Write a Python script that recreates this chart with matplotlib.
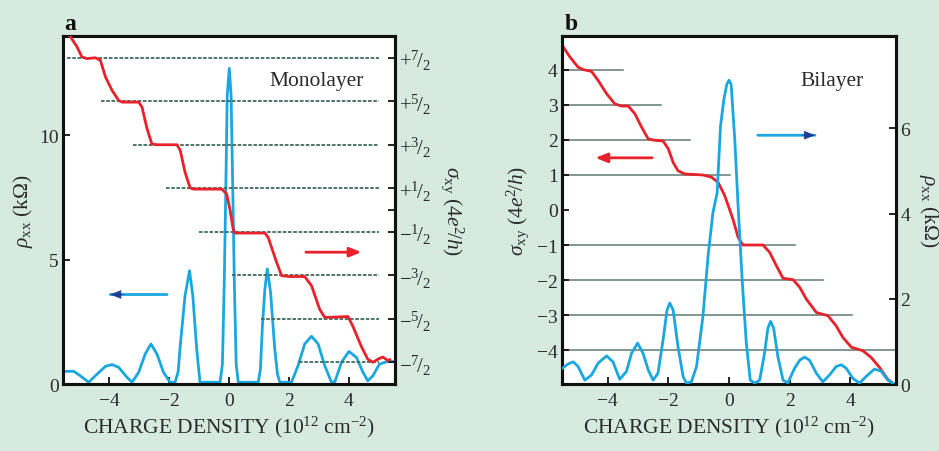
import matplotlib
matplotlib.use("Agg")
import matplotlib.pyplot as plt

plt.rcParams['font.family'] = ['Liberation Serif', 'DejaVu Serif']
plt.rcParams['mathtext.fontset'] = 'custom'
plt.rcParams['mathtext.rm'] = 'Liberation Serif'
plt.rcParams['mathtext.it'] = 'Liberation Serif:italic'
plt.rcParams['mathtext.bf'] = 'Liberation Serif:bold'

# ---------------- data: panel a (monolayer) ----------------
mono_rho_x = [-5.53, -5.19, -4.97, -4.69, -4.41, -4.13, -3.91, -3.69, -3.41, -3.24, -3.02, -2.8,
              -2.61, -2.41, -2.19, -1.97, -1.8, -1.7, -1.63, -1.47, -1.32, -1.21, -1.08, -0.97, -0.3,
              -0.22, -0.16, -0.11, -0.06, 0.01, 0.07, 0.13, 0.18, 0.24, 0.31, 0.98, 1.05, 1.12, 1.2, 1.28, 1.39,
              1.53, 1.62, 1.7, 2.09, 2.31, 2.53, 2.76, 2.98, 3.2, 3.42, 3.54, 3.76, 4.01, 4.26, 4.48,
              4.64, 4.81, 5.03, 5.31, 5.5]
mono_rho_y = [0.51, 0.51, 0.33, 0.07, 0.4, 0.71, 0.78, 0.67, 0.27, 0.07, 0.47, 1.21,
              1.61, 1.21, 0.47, 0.07, 0.07, 0.5, 1.54, 3.55, 4.56, 3.55, 1.41, 0.07, 0.07,
              0.8, 4.0, 7.57, 11.6, 12.7, 11.6, 7.57, 4.0, 0.8, 0.07, 0.07, 0.6, 2.4, 3.82, 4.63, 3.69,
              1.41, 0.4, 0.07, 0.07, 0.74, 1.61, 1.92, 1.61, 0.74, 0.09, 0.09, 0.87, 1.31, 1.07, 0.47,
              0.13, 0.33, 0.8, 0.91, 0.9]

mono_sig_x = [-5.45, -5.3, -5.08, -4.92, -4.75, -4.47, -4.3, -4.13, -3.91, -3.69, -3.58, -3.02,
              -2.91, -2.74, -2.58, -2.41, -1.74, -1.63, -1.47, -1.3, -1.19, -0.24, -0.08, 0.03,
              0.14, 0.2, 1.2, 1.31, 1.59, 1.76, 2.03, 2.53, 2.76, 3.03, 3.2, 3.98, 4.14, 4.42,
              4.64, 4.81, 4.98, 5.14, 5.31, 5.37]
mono_sig_y = [4.1, 3.98, 3.75, 3.52, 3.48, 3.5, 3.44, 3.06, 2.75, 2.52, 2.48, 2.48,
              2.37, 1.87, 1.52, 1.5, 1.5, 1.37, 0.87, 0.51, 0.48, 0.48, 0.37, 0.02,
              -0.44, -0.53, -0.53, -0.63, -1.2, -1.51, -1.53, -1.53, -1.74, -2.28, -2.47, -2.45, -2.67, -3.13,
              -3.43, -3.5, -3.43, -3.38, -3.46, -3.44]

mono_levels = [3.5, 2.5, 1.5, 0.5, -0.5, -1.5, -2.5, -3.5]
mono_level_start = [-5.4, -4.27, -3.2, -2.1, -1.0, 0.1, 1.07, 2.33]
mono_level_end = 5.03
mono_sig_ticks = [3.5, 2.5, 1.5, 0.5, 0.0, -0.5, -1.5, -2.5, -3.5]
mono_sig_labels = [r'$+{}^{7}\!/_{2}$', r'$+{}^{5}\!/_{2}$', r'$+{}^{3}\!/_{2}$', r'$+{}^{1}\!/_{2}$', '',
                   r'$-{}^{1}\!/_{2}$', r'$-{}^{3}\!/_{2}$', r'$-{}^{5}\!/_{2}$', r'$-{}^{7}\!/_{2}$']
mono_rho_ticks = [0, 5, 10]

# ---------------- data: panel b (bilayer) ----------------
bi_sig_x = [-5.46, -5.24, -4.97, -4.8, -4.53, -4.31, -4.03, -3.76, -3.54, -3.32, -3.1, -2.88,
            -2.66, -2.44, -2.17, -2.0, -1.84, -1.68, -1.46, -0.86, -0.58, -0.36, -0.14, 0.13,
            0.3, 0.46, 1.12, 1.34, 1.56, 1.78, 2.11, 2.33, 2.55, 2.88, 3.26, 3.53, 3.75, 4.03,
            4.41, 4.68, 4.96, 5.23, 5.45]
bi_sig_y = [4.66, 4.37, 4.08, 4.01, 3.96, 3.7, 3.32, 3.03, 2.97, 2.97, 2.75, 2.37,
            2.03, 1.99, 1.97, 1.75, 1.36, 1.12, 1.03, 1.0, 0.94, 0.79, 0.41, -0.26,
            -0.78, -1.0, -1.0, -1.21, -1.59, -1.95, -1.99, -2.21, -2.55, -2.93, -3.02, -3.31, -3.64, -3.92,
            -4.02, -4.21, -4.5, -4.84, -4.98]

bi_rho_x = [-5.49, -5.3, -5.13, -4.97, -4.75, -4.53, -4.31, -4.03, -3.82, -3.6, -3.38, -3.21,
            -3.01, -2.83, -2.66, -2.5, -2.34, -2.17, -2.04, -1.95, -1.84, -1.68, -1.51, -1.4,
            -1.24, -1.07, -0.86, -0.69, -0.53, -0.39, -0.28, -0.17, -0.07, 0.0, 0.07, 0.19,
            0.3, 0.44, 0.57, 0.7, 0.85, 1.01, 1.17, 1.28, 1.37, 1.47, 1.61, 1.78, 1.94, 2.16,
            2.33, 2.49, 2.65, 2.88, 3.09, 3.31, 3.53, 3.7, 3.86, 4.08, 4.3, 4.52, 4.79, 5.01,
            5.23, 5.4]
bi_rho_y = [0.37, 0.47, 0.52, 0.41, 0.09, 0.21, 0.49, 0.66, 0.52, 0.11, 0.29, 0.72,
            0.96, 0.72, 0.33, 0.09, 0.25, 1.04, 1.74, 1.9, 1.74, 0.88, 0.17, 0.02,
            0.05, 0.41, 1.58, 3.0, 4.02, 4.49, 6.05, 6.68, 7.04, 7.13, 7.04, 5.74,
            4.17, 2.37, 0.96, 0.09, 0.02, 0.09, 0.72, 1.31, 1.47, 1.31, 0.64, 0.09, 0.03, 0.37,
            0.56, 0.63, 0.56, 0.25, 0.05, 0.21, 0.41, 0.45, 0.37, 0.13, 0.02, 0.18, 0.35, 0.3,
            0.09, 0.02]

bi_levels = [4, 3, 2, 1, -1, -2, -3, -4]
bi_level_end = [-3.5, -2.25, -1.3, 0.03, 2.17, 3.1, 4.05, 5.5]
bi_sig_ticks = [4, 3, 2, 1, 0, -1, -2, -3, -4]
bi_sig_labels = ['4', '3', '2', '1', '0', '\u22121', '\u22122', '\u22123', '\u22124']
bi_rho_ticks = [0, 2, 4, 6]

x_ticks = [-4, -2, 0, 2, 4]
x_labels = ['\u22124', '\u22122', '0', '2', '4']

# ---------------- styling ----------------
BG = '#d6eadf'
RED = '#e8212b'
BLUE = '#1aa7e0'
DBLUE = '#1b3f94'
TXT = '#2b2b2b'
DASH = '#3e6b5c'
GRAYLINE = '#5f7b72'
TICK_FS = 14
LAB_FS = 15.5

fig = plt.figure(figsize=(9.39, 4.52), dpi=100)
fig.patch.set_facecolor(BG)

def style_axis(ax):
    for s in ax.spines.values():
        s.set_linewidth(2.2)
        s.set_color('#111111')
    ax.tick_params(direction='in', length=5, width=1.3, colors='#111111',
                   labelcolor=TXT, labelsize=TICK_FS, pad=3)

# ---------- panel a ----------
axa = fig.add_axes([63/939, 1-385/452, 332/939, 348/452])
axa.set_facecolor('white')
axa2 = axa.twinx()
axa.set_xlim(-5.55, 5.55)
axa.set_ylim(0, 14)
axa2.set_ylim(-4, 4)

axa.plot(mono_rho_x, mono_rho_y, color=BLUE, lw=2.0, solid_joinstyle='round', zorder=3)
for lv, xs in zip(mono_levels, mono_level_start):
    axa2.plot([xs, mono_level_end], [lv, lv], color=DASH, lw=1.3, linestyle=(0, (2.0, 0.9)), zorder=1)
axa2.plot(mono_sig_x, mono_sig_y, color=RED, lw=2.0, solid_joinstyle='round', zorder=3)

axa.set_xticks(x_ticks)
axa.set_xticklabels(x_labels)
axa.set_yticks(mono_rho_ticks)
axa2.set_yticks(mono_sig_ticks)
axa2.set_yticklabels(mono_sig_labels)
style_axis(axa)
style_axis(axa2)
axa2.tick_params(axis='y', labelsize=TICK_FS + 1)
axa.tick_params(axis='x', pad=6)
axa.set_xlabel(r'CHARGE DENSITY (10$^{12}$ cm$^{-2}$)', fontsize=LAB_FS, color=TXT, labelpad=3)
axa.set_ylabel(r'$\rho_{\rm xx}$ (k$\Omega$)', fontsize=LAB_FS, color=TXT, labelpad=3)
axa2.set_ylabel(r'$\sigma_{\rm xy}$ (4$e^{2}\!/h$)', fontsize=LAB_FS, color=TXT, rotation=270, labelpad=25)

axa.text(0.765, 0.871, 'Monolayer', transform=axa.transAxes, fontsize=LAB_FS, color=TXT,
         ha='center', va='center')
# arrows
axa2.annotate('', xy=(4.43, -0.97), xytext=(2.57, -0.97),
              arrowprops=dict(arrowstyle='-|>,head_length=0.7,head_width=0.28', color=RED, lw=2.0,
                              shrinkA=0, shrinkB=0))
axa.annotate('', xy=(-3.97, 3.6), xytext=(-2.07, 3.6),
             arrowprops=dict(arrowstyle='-', color=BLUE, lw=2.0, shrinkA=0, shrinkB=0))
axa.annotate('', xy=(-3.97, 3.6), xytext=(-3.5, 3.6),
             arrowprops=dict(arrowstyle='-|>,head_length=0.7,head_width=0.28', color=DBLUE, lw=0.5,
                             shrinkA=0, shrinkB=0))
fig.text(70/939, 1-24/452, 'a', fontsize=17, fontweight='bold', color='#111111', ha='center', va='center')

# ---------- panel b ----------
axb = fig.add_axes([562/939, 1-385/452, 334/939, 348/452])
axb.set_facecolor('white')
axb2 = axb.twinx()
axb.set_xlim(-5.5, 5.5)
axb.set_ylim(-4.97, 4.97)
axb2.set_ylim(0, 8.17)

for lv, xe in zip(bi_levels, bi_level_end):
    axb.plot([-5.5, xe], [lv, lv], color=GRAYLINE, lw=1.1, zorder=1)
axb.plot(bi_sig_x, bi_sig_y, color=RED, lw=2.0, solid_joinstyle='round', zorder=3)
axb2.plot(bi_rho_x, bi_rho_y, color=BLUE, lw=2.0, solid_joinstyle='round', zorder=3)

axb.set_xticks(x_ticks)
axb.set_xticklabels(x_labels)
axb.set_yticks(bi_sig_ticks)
axb.set_yticklabels(bi_sig_labels)
axb2.set_yticks(bi_rho_ticks)
style_axis(axb)
style_axis(axb2)
axb.tick_params(axis='x', pad=6)
axb.set_xlabel(r'CHARGE DENSITY (10$^{12}$ cm$^{-2}$)', fontsize=LAB_FS, color=TXT, labelpad=3)
axb.set_ylabel(r'$\sigma_{\rm xy}$ (4$e^{2}\!/h$)', fontsize=LAB_FS, color=TXT, labelpad=4)
axb2.set_ylabel(r'$\rho_{\rm xx}$ (k$\Omega$)', fontsize=LAB_FS, color=TXT, rotation=270, labelpad=22)

axb.text(0.808, 0.871, 'Bilayer', transform=axb.transAxes, fontsize=LAB_FS, color=TXT,
         ha='center', va='center')
axb.annotate('', xy=(-4.4, 1.49), xytext=(-2.53, 1.49),
             arrowprops=dict(arrowstyle='-|>,head_length=0.7,head_width=0.28', color=RED, lw=2.0,
                             shrinkA=0, shrinkB=0))
axb2.annotate('', xy=(2.83, 5.84), xytext=(0.95, 5.84),
              arrowprops=dict(arrowstyle='-', color=BLUE, lw=2.0, shrinkA=0, shrinkB=0))
axb2.annotate('', xy=(2.83, 5.84), xytext=(2.4, 5.84),
              arrowprops=dict(arrowstyle='-|>,head_length=0.7,head_width=0.28', color=DBLUE, lw=0.5,
                              shrinkA=0, shrinkB=0))
fig.text(571/939, 1-24/452, 'b', fontsize=17, fontweight='bold', color='#111111', ha='center', va='center')

fig.savefig('out.png', dpi=100, facecolor=BG)
